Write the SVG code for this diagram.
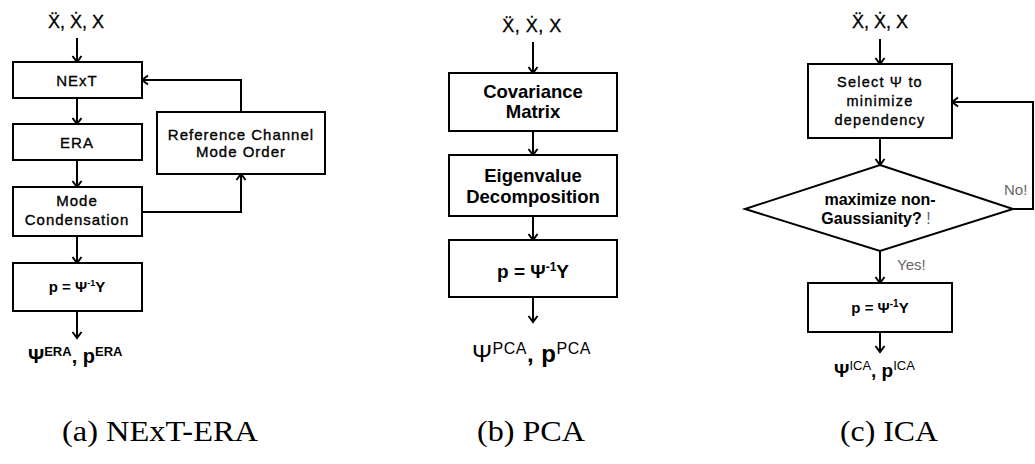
<svg xmlns="http://www.w3.org/2000/svg" width="1035" height="464" viewBox="0 0 1035 464">
<style>
.bx{fill:#fff;stroke:#000;stroke-width:2}
.cn{fill:none;stroke:#000;stroke-width:2}
.t{font-family:"Liberation Sans","DejaVu Sans",Arial,sans-serif;fill:#000;text-anchor:middle}
.ta{font-size:15px;letter-spacing:1px;stroke:#000;stroke-width:0.35}
.tb{font-size:18.5px;font-weight:bold}
.tc{font-size:14.5px;letter-spacing:1.2px;stroke:#000;stroke-width:0.35}
.td{font-size:16px;font-weight:bold}
.ti{font-size:18px;stroke:#000;stroke-width:0.3}
.gr{font-family:"Liberation Sans","DejaVu Sans",Arial,sans-serif;fill:#666;font-size:15px}
.cap{font-family:"Liberation Serif","Times New Roman",serif;font-size:30px;fill:#000;text-anchor:middle}
.st{text-anchor:start}
</style>
<defs>
<marker id="ah" viewBox="-8 -6 10 12" refX="0" refY="0" markerWidth="10" markerHeight="12" orient="auto" markerUnits="userSpaceOnUse">
<path d="M-6,-4.5 L0,0 L-6,4.5" fill="none" stroke="#000" stroke-width="2"/>
</marker>
</defs>

<g id="connectors">
<path class="cn" d="M77,38 V62" marker-end="url(#ah)"/>
<path class="cn" d="M77,98 V124" marker-end="url(#ah)"/>
<path class="cn" d="M77,160 V187" marker-end="url(#ah)"/>
<path class="cn" d="M77,236 V263" marker-end="url(#ah)"/>
<path class="cn" d="M77,311 V338" marker-end="url(#ah)"/>
<path class="cn" d="M241,112 V80 H142" marker-end="url(#ah)"/>
<path class="cn" d="M142,212 H241 V174" marker-end="url(#ah)"/>

<path class="cn" d="M533,42 V73" marker-end="url(#ah)"/>
<path class="cn" d="M533,131 V155" marker-end="url(#ah)"/>
<path class="cn" d="M533,216 V240" marker-end="url(#ah)"/>
<path class="cn" d="M533,297 V322" marker-end="url(#ah)"/>

<path class="cn" d="M880,39 V64" marker-end="url(#ah)"/>
<path class="cn" d="M880,138 V165" marker-end="url(#ah)"/>
<path class="cn" d="M1013,209 H1033 V102 H952" marker-end="url(#ah)"/>
<path class="cn" d="M880,251 V283" marker-end="url(#ah)"/>
<path class="cn" d="M880,332 V352" marker-end="url(#ah)"/>
<text class="gr st" x="1004" y="195">No!</text>
<text class="gr st" x="897" y="270">Yes!</text>
</g>

<!-- Panel (a) -->
<g id="a-input"><text class="t ti" x="76" y="28">Ẍ, Ẋ, X</text></g>
<g id="a-next"><rect class="bx" x="13" y="62" width="129" height="36"/><text class="t ta" x="77" y="85.5">NExT</text></g>
<g id="a-era"><rect class="bx" x="13" y="124" width="129" height="36"/><text class="t ta" x="77" y="147.5">ERA</text></g>
<g id="a-mode"><rect class="bx" x="13" y="187" width="129" height="49"/><text class="t ta" x="77" y="206">Mode</text><text class="t ta" x="77" y="225">Condensation</text></g>
<g id="a-p"><rect class="bx" x="13" y="263" width="129" height="48"/><text class="t" x="77" y="292" font-size="15" font-weight="bold">p = Ψ<tspan font-size="9" dy="-6">-1</tspan><tspan dy="6">Y</tspan></text></g>
<g id="a-ref"><rect class="bx" x="157" y="112" width="168" height="62"/><text class="t ta" x="241" y="140">Reference Channel</text><text class="t ta" x="241" y="157">Mode Order</text></g>
<g id="a-out"><text class="t st" x="28" y="363" font-size="20" font-weight="bold">Ψ<tspan font-size="13" dy="-7">ERA</tspan><tspan dy="7">, p</tspan><tspan font-size="13" dy="-7">ERA</tspan></text></g>

<!-- Panel (b) -->
<g id="b-input"><text class="t ti" x="532" y="32" font-size="19.5" letter-spacing="0.5">Ẍ, Ẋ, X</text></g>
<g id="b-cov"><rect class="bx" x="449" y="73" width="168" height="58"/><text class="t tb" x="533" y="98">Covariance</text><text class="t tb" x="533" y="118">Matrix</text></g>
<g id="b-eig"><rect class="bx" x="449" y="155" width="168" height="61"/><text class="t tb" x="533" y="182">Eigenvalue</text><text class="t tb" x="533" y="203">Decomposition</text></g>
<g id="b-p"><rect class="bx" x="449" y="240" width="168" height="57"/><text class="t" x="533" y="278" font-size="19" font-weight="bold">p = Ψ<tspan font-size="12" dy="-7">-1</tspan><tspan dy="7">Y</tspan></text></g>
<g id="b-out"><text class="t st" x="472" y="362" font-size="24" letter-spacing="0.5">Ψ<tspan font-size="16" dy="-8">PCA</tspan><tspan dy="8" font-weight="bold">, p</tspan><tspan font-size="16" dy="-8">PCA</tspan></text></g>

<!-- Panel (c) -->
<g id="c-input"><text class="t ti" x="880" y="28">Ẍ, Ẋ, X</text></g>
<g id="c-select"><rect class="bx" x="808" y="64" width="144" height="74"/><text class="t tc" x="880" y="87">Select Ψ to</text><text class="t tc" x="880" y="106">minimize</text><text class="t tc" x="880" y="125">dependency</text></g>
<g id="c-decision"><polygon class="bx" points="880,165 1013,209 880,251 745,209"/><text class="t td" x="880" y="205">maximize non-</text><text class="t td" x="876" y="224">Gaussianity? <tspan fill="#666" font-weight="normal">!</tspan></text></g>
<g id="c-p"><rect class="bx" x="808" y="283" width="144" height="49"/><text class="t" x="880" y="313" font-size="15" font-weight="bold">p = Ψ<tspan font-size="10" dy="-6">-1</tspan><tspan dy="6">Y</tspan></text></g>
<g id="c-out"><text class="t st" x="834" y="377" font-size="19" font-weight="bold">Ψ<tspan font-size="13" dy="-7" font-weight="normal">ICA</tspan><tspan dy="7">, p</tspan><tspan font-size="13" dy="-7" font-weight="normal">ICA</tspan></text></g>

<!-- Captions -->
<text class="cap" x="160" y="441" textLength="196" lengthAdjust="spacingAndGlyphs">(a) NExT-ERA</text>
<text class="cap" x="531" y="441" textLength="108" lengthAdjust="spacingAndGlyphs">(b) PCA</text>
<text class="cap" x="889" y="441" textLength="98" lengthAdjust="spacingAndGlyphs">(c) ICA</text>
</svg>
